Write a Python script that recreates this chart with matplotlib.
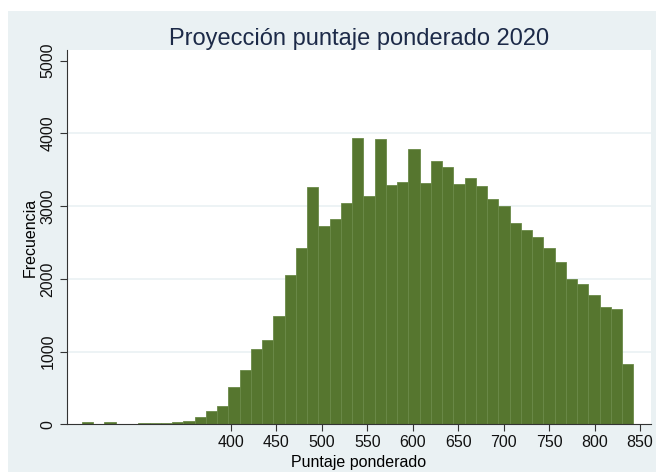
#!/usr/bin/env python3
"""
Histogram of the projected weighted score (puntaje ponderado) 2020, Stata look.
"""

import matplotlib
matplotlib.use('Agg')
import matplotlib.pyplot as plt
import matplotlib.patches as mpatches
import numpy as np

# histogram bins
BIN_START = 236.1
BIN_WIDTH = 12.38
COUNTS = [25, 0, 25, 0, 0, 12, 12, 15, 25, 40,
          96, 187, 256, 517, 747, 1035, 1159, 1494, 2057, 2420,
          3259, 2731, 2819, 3039, 3933, 3144, 3919, 3287, 3328, 3782,
          3314, 3621, 3534, 3300, 3383, 3281, 3102, 3002, 2764, 2668,
          2576, 2420, 2228, 2002, 1929, 1778, 1609, 1590, 833]

X_TICKS = [400, 450, 500, 550, 600, 650, 700, 750, 800, 850]
Y_TICKS = [0, 1000, 2000, 3000, 4000, 5000]

TITLE = 'Proyección puntaje ponderado 2020'
XLABEL = 'Puntaje ponderado'
YLABEL = 'Frecuencia'

BAR_COLOR = '#56762f'
EDGE_COLOR = '#6a8a48'
PANEL_COLOR = '#eaf1f3'
TEXT_COLOR = '#1c2a48'

plt.rcParams['font.family'] = ['Liberation Sans', 'DejaVu Sans']


def main():
    fig = plt.figure(figsize=(6.56, 4.72), dpi=100)
    fig.patch.set_facecolor('white')
    # light outer region, white strip on top and left
    panel = mpatches.Rectangle((8 / 656, 0), 1, 1 - 11 / 472,
                               transform=fig.transFigure,
                               facecolor=PANEL_COLOR, edgecolor='none')
    panel.set_zorder(-10)
    fig.add_artist(panel)

    ax = fig.add_axes([66.7 / 656, (472 - 424.3) / 472,
                       (650.7 - 66.7) / 656, (424.3 - 50) / 472])
    ax.set_zorder(1)
    ax.set_facecolor('white')

    edges = BIN_START + BIN_WIDTH * np.arange(len(COUNTS))
    ax.bar(edges, COUNTS, width=BIN_WIDTH, align='edge', color=BAR_COLOR,
           edgecolor=EDGE_COLOR, linewidth=0.6, zorder=2)

    for y in Y_TICKS[1:-1]:
        ax.axhline(y, color=PANEL_COLOR, linewidth=1.2, zorder=1)

    ax.set_xlim(219.3, 861.7)
    ax.set_ylim(0, 5147)
    ax.set_xticks(X_TICKS)
    ax.set_yticks(Y_TICKS)
    ax.set_yticklabels([str(v) for v in Y_TICKS], rotation=90, va='center')
    ax.tick_params(axis='both', direction='out', length=5, width=0.8,
                   color='#333333', labelsize=11.5, labelcolor='#111111', pad=3)

    for side in ['top', 'right']:
        ax.spines[side].set_visible(False)
    for side in ['left', 'bottom']:
        ax.spines[side].set_color('#333333')
        ax.spines[side].set_linewidth(0.8)

    ax.set_title(TITLE, fontsize=17, color=TEXT_COLOR, pad=2.5)
    ax.set_xlabel(XLABEL, fontsize=11.5, labelpad=3)
    ax.set_ylabel(YLABEL, fontsize=11.5, labelpad=2)

    fig.savefig('out.png', dpi=100, facecolor=fig.get_facecolor())


if __name__ == "__main__":
    main()
